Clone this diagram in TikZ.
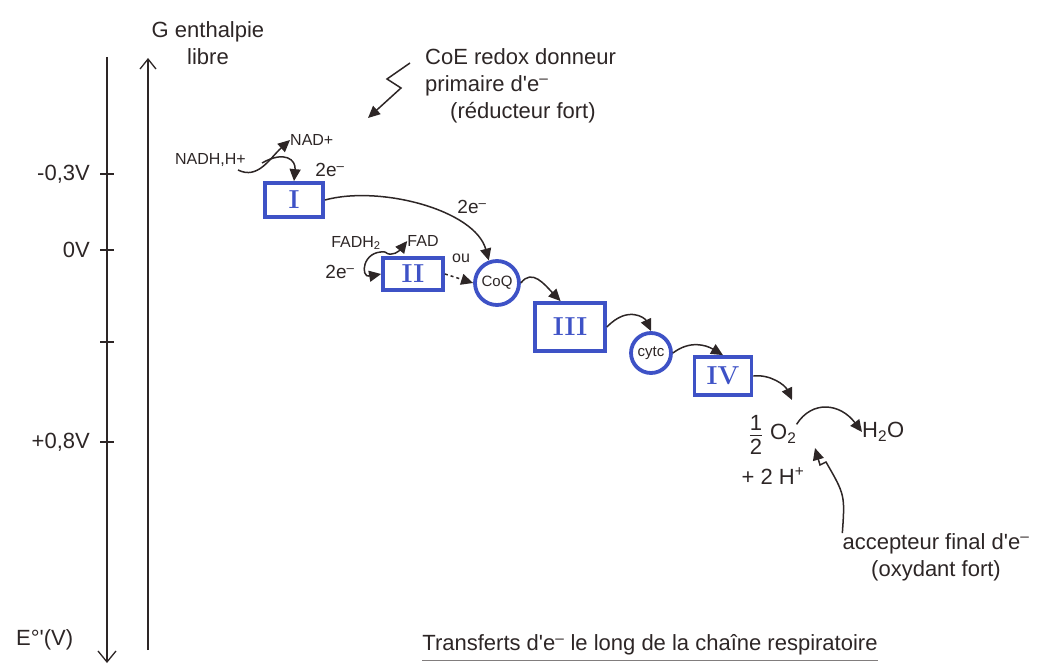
\documentclass[tikz,border=0pt]{standalone}
\usepackage{fontspec}
\usetikzlibrary{arrows.meta}
\newfontfamily\hand{Liberation Sans}
\definecolor{inkc}{RGB}{45,38,38}
\definecolor{cblue}{RGB}{62,82,198}
\begin{document}
\begin{tikzpicture}[x=1pt,y=-1pt,
  ink/.style={draw=inkc, line width=1.5pt},
  arr/.style={ink, -{Triangle[length=12pt,width=11pt]}},
  axis/.style={draw=inkc, line width=1.3pt},
  cplx/.style={draw=cblue, line width=3.8pt, rectangle, inner sep=0pt, text=cblue,
    font=\rmfamily\bfseries\fontsize{26}{28}\selectfont},
  carrier/.style={draw=cblue, line width=3.8pt, circle, inner sep=0pt, text=inkc,
    font=\hand\fontsize{15}{17}\selectfont},
  big/.style={text=inkc, inner sep=0pt, font=\hand\fontsize{22}{27}\selectfont},
  mid/.style={text=inkc, inner sep=0pt, font=\hand\fontsize{19}{22}\selectfont},
  small/.style={text=inkc, inner sep=0pt, font=\hand\fontsize{16}{18}\selectfont},
]
\useasboundingbox (0,0) rectangle (1043,669);

% potential axis (down) and free-enthalpy axis (up)
\coordinate (eTop) at (107,57);
\coordinate (eBot) at (107,663);
\draw[axis, -{Straight Barb[length=11pt,width=18pt]}] (eTop) -- (eBot);
\coordinate (gBot) at (148,650);
\coordinate (gTop) at (148,58);
\draw[axis, -{Straight Barb[length=10pt,width=16pt]}] (gBot) -- (gTop);
\node[big, align=center] (glabel) at (208,43) {G enthalpie\\libre};

% ticks and values
\foreach \y in {174,250,342,442} \draw[ink] (100,\y) -- (114,\y);
\node[big, anchor=east] (vm03) at (90,174) {-0,3V};
\node[big, anchor=east] (v0) at (90,250) {0V};
\node[big, anchor=east] (vp08) at (90,442) {+0,8V};
\node[big, anchor=west] (eunit) at (16,640) {E°'(V)};

% complexes and mobile carriers
\node[cplx, minimum width=58pt, minimum height=34pt] (cI) at (294,200) {I};
\node[cplx, minimum width=60pt, minimum height=32pt] (cII) at (413,274) {II};
\node[carrier, minimum size=44pt] (coq) at (497,283) {CoQ};
\node[cplx, minimum width=70pt, minimum height=48pt] (cIII) at (570,327) {III};
\node[carrier, minimum size=40pt] (cytc) at (651,353) {cytc};
\node[cplx, minimum width=57pt, minimum height=38pt] (cIV) at (723,376) {IV};

% NADH entry
\node[small, anchor=east] (nadh) at (246,160) {NADH,H+};
\node[small, anchor=west] (nad) at (290,140) {NAD+};
\node[mid] (e1) at (330,170) {2e\textsuperscript{–}};
\coordinate (nadhOut) at (238,170);
\coordinate (nadhSplit) at (262,163);
\draw[arr] (nadhOut) .. controls (258,180) and (270,158) .. (nad.west);
\draw[arr] (nadhSplit) .. controls (285,150) and (296,160) .. (cI.north);

% I -> CoQ
\draw[arr] (cI.east) .. controls (380,185) and (475,210) .. (coq.110);
\node[mid] (e2) at (472,207) {2e\textsuperscript{–}};

% FADH2 entry
\node[small] (fadh) at (356,243) {FADH\textsubscript{2}};
\node[small] (fad) at (423,241) {FAD};
\node[mid] (e3) at (340,272) {2e\textsuperscript{–}};
\coordinate (fadhOut) at (385,252);
\draw[arr] (fadhOut) .. controls (392,258) and (400,250) .. (fad.west);
\draw[arr] (fadhOut) .. controls (362,250) and (360,278) .. (cII.west);
\node[small] (ou) at (461,258) {ou};
\draw[arr, dashed] (cII.east) -- (coq.west);

% downstream transfers
\draw[arr] (coq.east) .. controls (532,268) and (545,285) .. (cIII.110);
\draw[arr] (cIII.east) .. controls (628,305) and (645,318) .. (cytc.north);
\draw[arr] (cytc.east) .. controls (690,340) and (706,345) .. (cIV.north);
\coordinate (o2in) at (792,400);
\draw[arr] (cIV.east) .. controls (770,374) and (785,385) .. (o2in);

% final acceptor
\node[big] (half) at (756,437) {\begin{tabular}{@{}c@{}}1\\[-4pt]\hline 2\end{tabular}};
\node[big, anchor=west] (o2) at (770,434) {O\textsubscript{2}};
\node[big] (hplus) at (773,476) {+ 2 H\textsuperscript{+}};
\node[big, anchor=west] (h2o) at (862,432) {H\textsubscript{2}O};
\draw[arr] (o2.north east) .. controls (812,400) and (840,403) .. (h2o.west);
\node[big, align=center] (acc) at (936,557) {accepteur final d'e\textsuperscript{–}\\(oxydant fort)};
\coordinate (accKink) at (826,462);
\draw[arr] (acc.north west) .. controls (845,495) .. (accKink) -- (820,465) -- (815,448);

% primary donor note
\node[big, align=left, anchor=north west] (donor) at (425,48)
  {CoE redox donneur\\primaire d'e\textsuperscript{–}\\\hspace*{25pt}(réducteur fort)};
\coordinate (zz) at (410,63);
\draw[arr] (zz) -- (387,79) -- (401,88) -- (368,118);

% caption
\node[big] (title) at (650,645) {Transferts d'e\textsuperscript{–} le long de la chaîne respiratoire};
\draw[ink, draw=inkc!60] ([yshift=-5pt]title.south west) -- ([yshift=-5pt]title.south east);
\end{tikzpicture}
\end{document}
